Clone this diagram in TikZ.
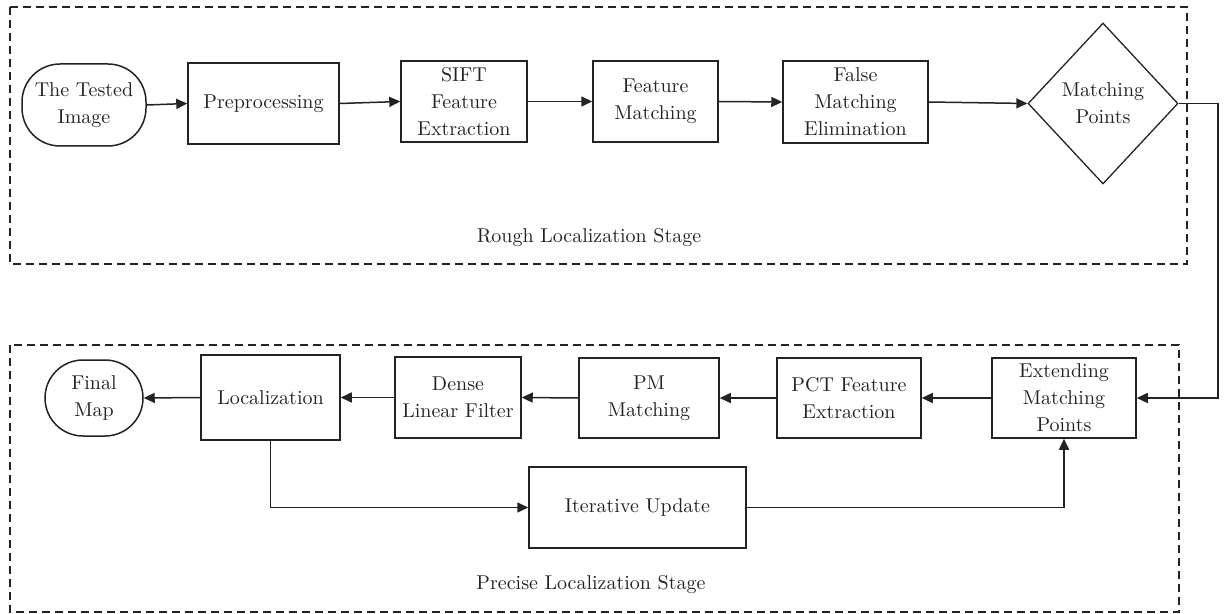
\documentclass[tikz,border=0pt]{standalone}
\usetikzlibrary{arrows.meta,shapes.geometric}
\definecolor{ink}{RGB}{35,35,35}
\begin{document}
\begin{tikzpicture}[x=0.5pt,y=-0.5pt,
  every node/.style={font=\fontsize{10}{13.5}\selectfont, text=ink, align=center, inner sep=0pt},
  procbox/.style={draw=ink, line width=0.75pt, rectangle},
  termbox/.style={draw=ink, line width=0.75pt, rectangle, rounded corners=19pt},
  decbox/.style={draw=ink, line width=0.65pt, diamond},
  flow/.style={draw=ink, line width=0.75pt, -{Triangle[length=5.5pt,width=5pt]}},
  link/.style={draw=ink, line width=0.75pt},
  stage/.style={draw=ink, line width=0.75pt, dash pattern=on 4pt off 2.5pt}]
\useasboundingbox (0,0) rectangle (1224,614);

% stage frames
\draw[stage] (10,7) rectangle (1187,264);
\draw[stage] (10,345) rectangle (1179,612);
\node (roughlbl) at (589,238) {Rough Localization Stage};
\node (preciselbl) at (591,585) {Precise Localization Stage};

% rough localization stage
\node[termbox, minimum width=62pt, minimum height=41pt] (tested) at (84,105) {The Tested\\Image};
\node[procbox, minimum width=75.5pt, minimum height=40.5pt] (pre) at (263.5,103.5) {Preprocessing};
\node[procbox, minimum width=63pt, minimum height=40.5pt] (sift) at (464,101.5) {SIFT\\Feature\\Extraction};
\node[procbox, minimum width=62.5pt, minimum height=40.5pt] (fm) at (655.5,101.5) {Feature\\Matching};
\node[procbox, minimum width=72.5pt, minimum height=41pt] (fme) at (855.5,102) {False\\Matching\\Elimination};
\node[decbox, minimum width=75pt, minimum height=80.5pt] (mp) at (1103,103.5) {Matching\\Points};

% precise localization stage
\node[procbox, minimum width=72pt, minimum height=40pt] (ext) at (1064,398) {Extending\\Matching\\Points};
\node[procbox, minimum width=72pt, minimum height=40pt] (pct) at (849,398) {PCT Feature\\Extraction};
\node[procbox, minimum width=70pt, minimum height=40pt] (pm) at (649,398) {PM\\Matching};
\node[procbox, minimum width=63pt, minimum height=40.5pt] (dlf) at (458,397.5) {Dense\\Linear Filter};
\node[procbox, minimum width=69.5pt, minimum height=42.5pt] (loc) at (270.5,397.5) {Localization};
\node[termbox, minimum width=49pt, minimum height=38pt] (final) at (94,398) {Final\\Map};
\node[procbox, minimum width=108.5pt, minimum height=40.5pt] (iter) at (637.5,507.5) {Iterative Update};

\coordinate (turn) at (1218,103.5);

% connectors
\draw[flow] (tested.east) -- (pre.west);
\draw[flow] (pre.east) -- (sift.west);
\draw[flow] (sift.east) -- (fm.west);
\draw[flow] (fm.east) -- (fme.west);
\draw[flow] (fme.east) -- (mp.west);
\draw[flow] (mp.east) -- (turn) |- (ext.east);
\draw[flow] (ext.west) -- (pct.east);
\draw[flow] (pct.west) -- (pm.east);
\draw[flow] (pm.west) -- (dlf.east);
\draw[flow] (dlf.west) -- (loc.east);
\draw[flow] (loc.west) -- (final.east);
\draw[flow] (loc.south) |- (iter.west);
\draw[flow] (iter.east) -| (ext.south);
\end{tikzpicture}
\end{document}
